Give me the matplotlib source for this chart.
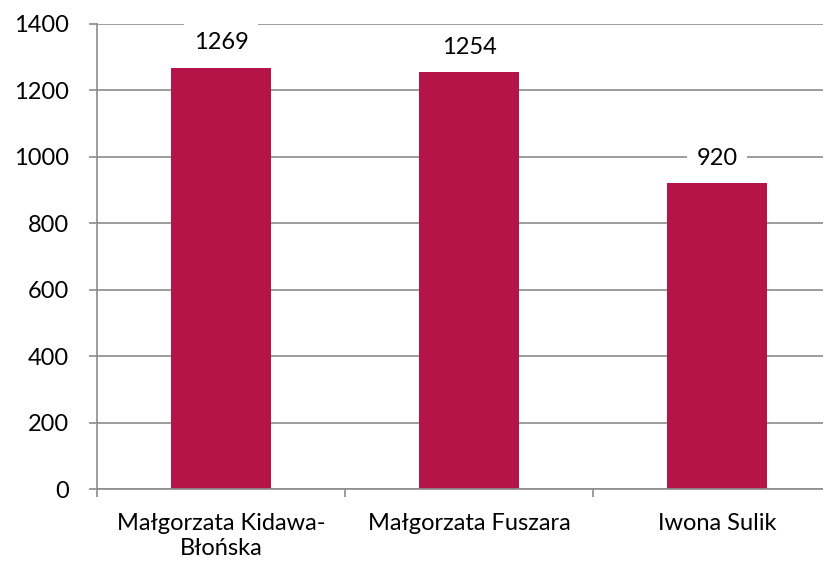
import matplotlib.pyplot as plt

plt.rcParams['font.family'] = ['Lato', 'DejaVu Sans']

candidates = ['Małgorzata Kidawa-\nBłońska', 'Małgorzata Fuszara', 'Iwona Sulik']
votes = [1269, 1254, 920]

bar_color = '#B51448'
grid_color = '#8C8C8C'

fig = plt.figure(figsize=(8.23, 5.66), dpi=100)
# plot area runs a bit past the right edge, like the original export
ax = fig.add_axes([97 / 823, 1 - 489 / 566, 744 / 823, 465 / 566])

x = list(range(len(candidates)))
ax.bar(x, votes, width=0.4, color=bar_color, zorder=3)

ax.set_xlim(-0.5, len(candidates) - 0.5)
ax.set_ylim(0, 1400)
ax.set_yticks(range(0, 1401, 200))
ax.set_xticks(x)
ax.set_xticklabels(candidates, fontsize=17, color='black', linespacing=1.25)
ax.tick_params(axis='x', length=0, pad=17)
ax.set_xticks([i - 0.5 for i in range(len(candidates) + 1)], minor=True)
ax.tick_params(axis='x', which='minor', length=6, color=grid_color, width=1.2)
ax.tick_params(axis='y', length=6, color=grid_color, width=1.2, labelsize=17, pad=14)

ax.grid(axis='y', color=grid_color, linewidth=1.2, zorder=0)
for s in ['top', 'right']:
    ax.spines[s].set_visible(False)
for s in ['left', 'bottom']:
    ax.spines[s].set_color(grid_color)
    ax.spines[s].set_linewidth(1.2)
    ax.spines[s].set_zorder(4)

for xi, v in zip(x, votes):
    ax.annotate(str(v), (xi, v), xytext=(0, 18), textcoords='offset points',
                ha='center', va='center', fontsize=17, zorder=5,
                bbox=dict(facecolor='white', edgecolor='none', pad=7))

fig.savefig('out.png', dpi=100)
